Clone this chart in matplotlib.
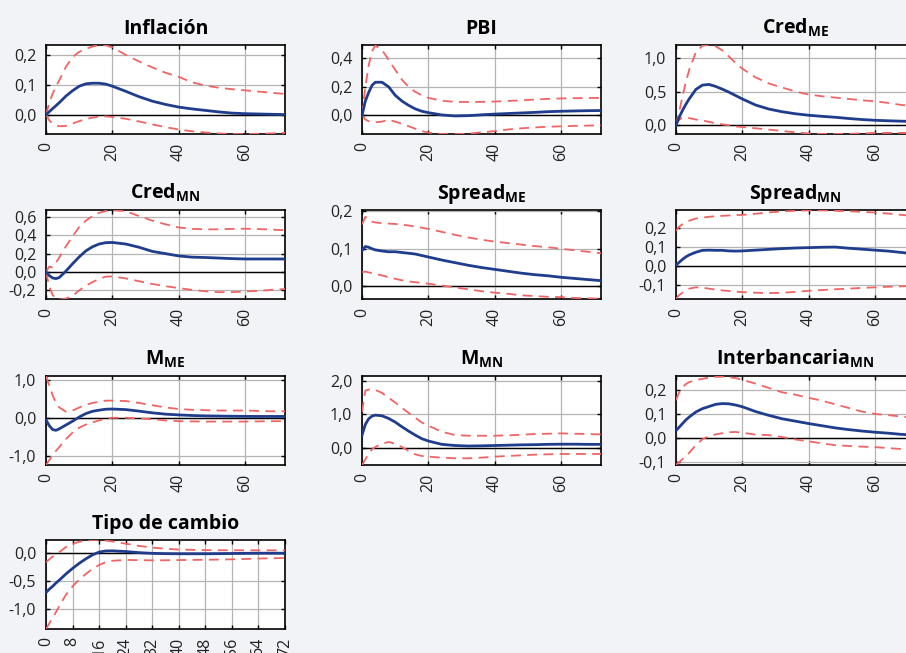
import matplotlib
matplotlib.use('Agg')
import matplotlib.pyplot as plt
from matplotlib.ticker import FixedLocator, FuncFormatter

plt.rcParams['font.family'] = ['Open Sans', 'DejaVu Sans']
plt.rcParams['mathtext.fontset'] = 'custom'
plt.rcParams['mathtext.bf'] = 'Open Sans:bold'
plt.rcParams['mathtext.rm'] = 'Open Sans'

# horizonte (meses)
h = [0, 1, 2, 3, 4, 6, 8, 10, 12, 14, 16, 18, 20, 24, 28, 32, 36, 40, 44, 48, 52, 56, 60, 64, 68, 72]

# Inflación
infl_mid = [0, 0.01, 0.02, 0.03, 0.04, 0.062, 0.08, 0.095, 0.103, 0.105, 0.105, 0.102, 0.095, 0.078, 0.06, 0.045, 0.034, 0.025, 0.019, 0.014, 0.009, 0.005, 0.003, 0.002, 0.001, 0.0]
infl_up = [0, 0.04, 0.07, 0.095, 0.115, 0.16, 0.193, 0.21, 0.22, 0.228, 0.232, 0.232, 0.225, 0.2, 0.178, 0.158, 0.14, 0.126, 0.108, 0.097, 0.09, 0.085, 0.081, 0.077, 0.073, 0.069]
infl_lo = [0, -0.02, -0.03, -0.036, -0.039, -0.038, -0.03, -0.022, -0.015, -0.01, -0.007, -0.006, -0.008, -0.014, -0.023, -0.033, -0.042, -0.05, -0.056, -0.06, -0.063, -0.065, -0.065, -0.064, -0.063, -0.061]

# PBI
pbi_mid = [0, 0.1, 0.16, 0.21, 0.232, 0.232, 0.2, 0.14, 0.1, 0.07, 0.045, 0.028, 0.018, 0.002, -0.005, -0.003, 0.003, 0.008, 0.012, 0.016, 0.02, 0.025, 0.028, 0.03, 0.032, 0.033]
pbi_up = [0, 0.2, 0.35, 0.45, 0.49, 0.46, 0.39, 0.32, 0.25, 0.2, 0.165, 0.14, 0.122, 0.102, 0.094, 0.093, 0.094, 0.096, 0.1, 0.105, 0.11, 0.115, 0.118, 0.12, 0.121, 0.122]
pbi_lo = [0, -0.03, -0.042, -0.048, -0.05, -0.045, -0.032, -0.045, -0.06, -0.077, -0.095, -0.112, -0.122, -0.132, -0.133, -0.13, -0.12, -0.112, -0.1, -0.092, -0.086, -0.081, -0.078, -0.075, -0.073, -0.071]

# Crédito ME
cme_mid = [0, 0.12, 0.22, 0.31, 0.39, 0.53, 0.595, 0.605, 0.575, 0.535, 0.49, 0.44, 0.39, 0.3, 0.24, 0.2, 0.17, 0.148, 0.132, 0.118, 0.1, 0.085, 0.073, 0.066, 0.06, 0.056]
cme_up = [0, 0.2, 0.43, 0.64, 0.82, 1.08, 1.18, 1.19, 1.17, 1.11, 1.02, 0.92, 0.84, 0.71, 0.62, 0.56, 0.5, 0.455, 0.43, 0.41, 0.39, 0.37, 0.355, 0.33, 0.3, 0.285]
cme_lo = [0, 0.08, 0.12, 0.115, 0.105, 0.085, 0.07, 0.05, 0.028, 0.012, 0.0, -0.018, -0.027, -0.045, -0.065, -0.085, -0.105, -0.122, -0.128, -0.13, -0.128, -0.12, -0.115, -0.114, -0.114, -0.115]

# Crédito MN
cmn_mid = [0, -0.04, -0.065, -0.072, -0.06, 0.01, 0.09, 0.165, 0.23, 0.275, 0.305, 0.32, 0.322, 0.305, 0.27, 0.225, 0.2, 0.175, 0.162, 0.158, 0.152, 0.146, 0.142, 0.142, 0.142, 0.142]
cmn_up = [0, 0.06, 0.05, 0.1, 0.16, 0.28, 0.39, 0.49, 0.56, 0.61, 0.645, 0.665, 0.673, 0.662, 0.61, 0.56, 0.52, 0.485, 0.47, 0.465, 0.465, 0.47, 0.472, 0.468, 0.462, 0.455]
cmn_lo = [0, -0.16, -0.25, -0.29, -0.3, -0.29, -0.26, -0.2, -0.15, -0.11, -0.075, -0.05, -0.048, -0.07, -0.1, -0.13, -0.155, -0.175, -0.195, -0.21, -0.22, -0.22, -0.212, -0.205, -0.195, -0.185]

# Spread ME
sme_mid = [0.095, 0.106, 0.104, 0.1, 0.097, 0.094, 0.092, 0.092, 0.09, 0.088, 0.086, 0.082, 0.078, 0.07, 0.063, 0.056, 0.05, 0.045, 0.04, 0.035, 0.031, 0.028, 0.024, 0.021, 0.018, 0.015]
sme_up = [0.165, 0.185, 0.176, 0.172, 0.17, 0.168, 0.167, 0.166, 0.164, 0.162, 0.159, 0.156, 0.153, 0.145, 0.137, 0.13, 0.124, 0.119, 0.115, 0.111, 0.107, 0.104, 0.1, 0.096, 0.092, 0.088]
sme_lo = [0.038, 0.039, 0.037, 0.035, 0.033, 0.029, 0.024, 0.02, 0.016, 0.013, 0.011, 0.009, 0.007, 0.002, -0.003, -0.008, -0.013, -0.017, -0.02, -0.024, -0.026, -0.028, -0.029, -0.031, -0.032, -0.033]

# Spread MN
smn_mid = [0.005, 0.02, 0.035, 0.048, 0.058, 0.072, 0.082, 0.083, 0.082, 0.082, 0.079, 0.078, 0.079, 0.083, 0.087, 0.091, 0.094, 0.096, 0.098, 0.099, 0.093, 0.088, 0.083, 0.078, 0.071, 0.063]
smn_up = [0.183, 0.205, 0.218, 0.228, 0.236, 0.247, 0.252, 0.256, 0.259, 0.261, 0.263, 0.265, 0.266, 0.272, 0.279, 0.284, 0.287, 0.289, 0.289, 0.287, 0.285, 0.282, 0.278, 0.273, 0.266, 0.26]
smn_lo = [-0.17, -0.15, -0.138, -0.125, -0.117, -0.11, -0.112, -0.117, -0.122, -0.126, -0.129, -0.132, -0.135, -0.138, -0.14, -0.138, -0.134, -0.128, -0.124, -0.12, -0.117, -0.113, -0.11, -0.107, -0.105, -0.103]

# M ME
mme_mid = [-0.05, -0.2, -0.3, -0.32, -0.28, -0.18, -0.08, 0.03, 0.12, 0.18, 0.21, 0.235, 0.24, 0.225, 0.185, 0.14, 0.105, 0.085, 0.07, 0.06, 0.055, 0.05, 0.047, 0.045, 0.045, 0.045]
mme_up = [1.1, 0.85, 0.6, 0.4, 0.28, 0.17, 0.2, 0.28, 0.35, 0.4, 0.43, 0.46, 0.46, 0.45, 0.4, 0.34, 0.28, 0.24, 0.22, 0.21, 0.2, 0.2, 0.2, 0.19, 0.18, 0.18]
mme_lo = [-1.23, -1.1, -0.97, -0.86, -0.76, -0.55, -0.38, -0.25, -0.17, -0.11, -0.06, -0.01, 0.01, 0.01, -0.005, -0.03, -0.06, -0.08, -0.085, -0.09, -0.09, -0.09, -0.09, -0.085, -0.08, -0.08]

# M MN
mmn_mid = [0.38, 0.7, 0.87, 0.95, 0.98, 0.96, 0.88, 0.77, 0.63, 0.5, 0.38, 0.27, 0.2, 0.1, 0.065, 0.05, 0.055, 0.065, 0.075, 0.085, 0.09, 0.1, 0.105, 0.105, 0.1, 0.1]
mmn_up = [1.08, 1.72, 1.75, 1.74, 1.74, 1.65, 1.5, 1.36, 1.2, 1.05, 0.9, 0.76, 0.66, 0.48, 0.38, 0.36, 0.36, 0.36, 0.37, 0.39, 0.41, 0.42, 0.43, 0.42, 0.41, 0.4]
mmn_lo = [-0.52, -0.35, -0.18, -0.05, 0.02, 0.12, 0.17, 0.12, 0.02, -0.1, -0.2, -0.25, -0.27, -0.3, -0.32, -0.32, -0.3, -0.27, -0.25, -0.23, -0.21, -0.2, -0.19, -0.19, -0.19, -0.19]

# Interbancaria MN
ib_mid = [0.03, 0.045, 0.06, 0.075, 0.087, 0.108, 0.122, 0.131, 0.14, 0.143, 0.142, 0.137, 0.13, 0.11, 0.094, 0.08, 0.07, 0.06, 0.051, 0.042, 0.035, 0.029, 0.024, 0.02, 0.015, 0.012]
ib_up = [0.157, 0.19, 0.21, 0.224, 0.232, 0.241, 0.246, 0.251, 0.254, 0.255, 0.253, 0.249, 0.242, 0.226, 0.208, 0.19, 0.18, 0.167, 0.155, 0.14, 0.125, 0.11, 0.1, 0.095, 0.089, 0.084]
ib_lo = [-0.111, -0.1, -0.088, -0.075, -0.062, -0.03, -0.005, 0.008, 0.015, 0.02, 0.024, 0.025, 0.022, 0.014, 0.012, 0.004, -0.006, -0.014, -0.022, -0.03, -0.033, -0.036, -0.038, -0.042, -0.046, -0.05]

# Tipo de cambio
tc_mid = [-0.71, -0.65, -0.6, -0.54, -0.49, -0.38, -0.28, -0.19, -0.11, -0.04, 0.01, 0.03, 0.032, 0.02, 0.0, -0.012, -0.018, -0.02, -0.02, -0.02, -0.018, -0.015, -0.012, -0.01, -0.01, -0.01]
tc_up = [-0.17, -0.12, -0.07, -0.03, 0.01, 0.1, 0.155, 0.195, 0.215, 0.225, 0.226, 0.215, 0.2, 0.16, 0.12, 0.09, 0.07, 0.055, 0.05, 0.045, 0.043, 0.042, 0.042, 0.042, 0.042, 0.042]
tc_lo = [-1.36, -1.26, -1.16, -1.06, -0.95, -0.75, -0.6, -0.48, -0.38, -0.29, -0.22, -0.17, -0.145, -0.13, -0.133, -0.137, -0.136, -0.132, -0.13, -0.127, -0.123, -0.119, -0.113, -0.105, -0.1, -0.095]

titles = ['Inflación', 'PBI', 'Cred$_{\\mathbf{ME}}$',
          'Cred$_{\\mathbf{MN}}$', 'Spread$_{\\mathbf{ME}}$', 'Spread$_{\\mathbf{MN}}$',
          'M$_{\\mathbf{ME}}$', 'M$_{\\mathbf{MN}}$', 'Interbancaria$_{\\mathbf{MN}}$',
          'Tipo de cambio']
mids = [infl_mid, pbi_mid, cme_mid, cmn_mid, sme_mid, smn_mid, mme_mid, mmn_mid, ib_mid, tc_mid]
ups = [infl_up, pbi_up, cme_up, cmn_up, sme_up, smn_up, mme_up, mmn_up, ib_up, tc_up]
los = [infl_lo, pbi_lo, cme_lo, cmn_lo, sme_lo, smn_lo, mme_lo, mmn_lo, ib_lo, tc_lo]
yticks = [[0, 0.1, 0.2], [0, 0.2, 0.4], [0, 0.5, 1.0],
          [-0.2, 0, 0.2, 0.4, 0.6], [0, 0.1, 0.2], [-0.1, 0, 0.1, 0.2],
          [-1.0, 0, 1.0], [0, 1.0, 2.0], [-0.1, 0, 0.1, 0.2],
          [-1.0, -0.5, 0]]
ylims = [(-0.065, 0.233), (-0.132, 0.494), (-0.13, 1.19),
         (-0.295, 0.675), (-0.034, 0.203), (-0.171, 0.291),
         (-1.23, 1.11), (-0.52, 2.16), (-0.112, 0.258),
         (-1.36, 0.226)]

azul = '#1f3d8c'
rojo = '#f06464'
fondo = '#f2f3f7'

fig = plt.figure(figsize=(9.06, 6.53), dpi=100, facecolor=fondo)

lefts = [0.0508, 0.3996, 0.746]
bottoms = [0.7948, 0.542, 0.288, 0.0368]
w, hgt = 0.2638, 0.1363

fmt = FuncFormatter(lambda v, p: f'{v:.1f}'.replace('.', ','))

for i in range(10):
    r, c = divmod(i, 3)
    ax = fig.add_axes([lefts[c], bottoms[r], w, hgt])
    ax.set_facecolor('white')
    ax.plot(h, ups[i], color=rojo, lw=1.3, dashes=(5.5, 3.5), zorder=3)
    ax.plot(h, los[i], color=rojo, lw=1.3, dashes=(5.5, 3.5), zorder=3)
    ax.plot(h, mids[i], color=azul, lw=2.0, zorder=4)
    ax.axhline(0, color='black', lw=1.0, zorder=2)
    ax.set_xlim(0, 72)
    ax.set_ylim(*ylims[i])
    if i == 9:
        ax.xaxis.set_major_locator(FixedLocator(list(range(0, 73, 8))))
    else:
        ax.xaxis.set_major_locator(FixedLocator([0, 20, 40, 60]))
    ax.yaxis.set_major_locator(FixedLocator(yticks[i]))
    ax.yaxis.set_major_formatter(fmt)
    ax.grid(True, color='#b4b4b4', lw=0.9, zorder=1)
    ax.tick_params(direction='in', length=3, width=1, top=True, right=True,
                   labelsize=11.5, colors='black', labelcolor='#222222')
    ax.tick_params(axis='y', pad=7)
    ax.tick_params(axis='x', labelrotation=90, pad=6)
    for s in ax.spines.values():
        s.set_linewidth(1.2)
    ax.set_title(titles[i], fontsize=14, fontweight='bold', pad=8)

fig.savefig('out.png', dpi=100, facecolor=fondo)
